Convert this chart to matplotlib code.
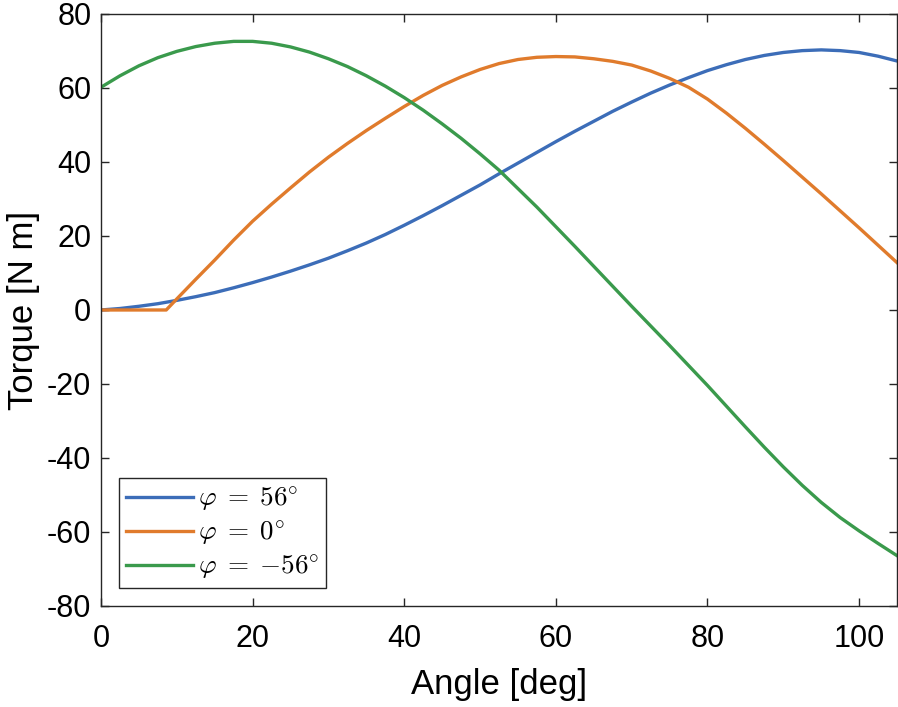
import matplotlib
matplotlib.use("Agg")
import matplotlib.pyplot as plt

angle = [0, 2.5, 5, 7.5, 10, 12.5, 15, 17.5, 20, 22.5, 25, 27.5, 30, 32.5, 35, 37.5, 40, 42.5,
         45, 47.5, 50, 52.5, 55, 57.5, 60, 62.5, 65, 67.5, 70, 72.5, 75, 77.5, 80, 82.5, 85,
         87.5, 90, 92.5, 95, 97.5, 100, 102.5, 105]
torque_p56 = [0, 0.4, 1.0, 1.7, 2.6, 3.6, 4.7, 6.0, 7.4, 8.9, 10.5, 12.2, 14.0, 16.0, 18.1, 20.4,
              22.9, 25.5, 28.2, 31.0, 33.8, 36.8, 39.7, 42.6, 45.5, 48.3, 51.0, 53.7, 56.2, 58.6,
              60.8, 62.8, 64.7, 66.3, 67.7, 68.8, 69.6, 70.1, 70.3, 70.1, 69.6, 68.6, 67.3]
angle_0 = [0, 8.6, 10, 12.5, 15, 17.5, 20, 22.5, 25, 27.5, 30, 32.5, 35, 37.5, 40, 42.5,
           45, 47.5, 50, 52.5, 55, 57.5, 60, 62.5, 65, 67.5, 70, 72.5, 75, 77.5, 80, 82.5, 85,
           87.5, 90, 92.5, 95, 97.5, 100, 102.5, 105]
torque_0 = [0, 0, 3.0, 8.3, 13.5, 18.9, 24.0, 28.6, 33.0, 37.3, 41.3, 45.0, 48.5, 51.8, 55.0,
            58.0, 60.7, 63.0, 65.0, 66.6, 67.7, 68.3, 68.5, 68.4, 67.9, 67.2, 66.2, 64.6, 62.6,
            60.2, 57.0, 53.2, 49.1, 44.8, 40.4, 35.9, 31.4, 26.8, 22.2, 17.5, 12.8]
torque_m56 = [60.2, 63.3, 66.0, 68.2, 69.9, 71.2, 72.1, 72.6, 72.6, 72.1, 71.1, 69.7, 67.9, 65.8,
              63.3, 60.5, 57.4, 54.0, 50.3, 46.4, 42.2, 37.8, 32.8, 27.8, 22.5, 17.2, 11.8, 6.4,
              1.0, -4.3, -9.6, -15.0, -20.4, -26.0, -31.6, -37.1, -42.4, -47.4, -52.0, -56.1,
              -59.7, -63.1, -66.4]

labels = [r'$\varphi\;=\;56^{\circ}$', r'$\varphi\;=\;0^{\circ}$', r'$\varphi\;=\;{-}56^{\circ}$']
colors = ['#3C6DB8', '#E07B2C', '#3A9A4C']
xticks = [0, 20, 40, 60, 80, 100]
yticks = [-80, -60, -40, -20, 0, 20, 40, 60, 80]

plt.rcParams['font.family'] = ['Liberation Sans', 'DejaVu Sans']
plt.rcParams['mathtext.fontset'] = 'cm'

fig = plt.figure(figsize=(8.98, 7.07), dpi=100)
ax = fig.add_axes([0.1125, 0.1429, 0.8864, 0.8373])

ax.plot(angle, torque_p56, color=colors[0], lw=2.4, label=labels[0])
ax.plot(angle_0, torque_0, color=colors[1], lw=2.4, label=labels[1])
ax.plot(angle, torque_m56, color=colors[2], lw=2.4, label=labels[2])

ax.set_xlim(0, 105)
ax.set_ylim(-80, 80)
ax.set_xticks(xticks)
ax.set_yticks(yticks)
ax.set_xticklabels([str(v) for v in xticks])
ax.set_yticklabels([str(v) for v in yticks])
ax.tick_params(direction='in', length=6, width=1.0, top=True, right=True,
               labelsize=22, colors='#262626', labelcolor='black')
ax.tick_params(axis='x', pad=13)
ax.tick_params(axis='y', pad=7)
for s in ax.spines.values():
    s.set_color('#262626')
    s.set_linewidth(1.0)

ax.set_xlabel('Angle [deg]', fontsize=25, labelpad=10)
ax.set_ylabel('Torque [N m]', fontsize=25, labelpad=5)

leg = ax.legend(loc='lower left', bbox_to_anchor=(0.0226, 0.0304), fontsize=19.5,
                frameon=True, fancybox=False, edgecolor='#262626', framealpha=1,
                handlelength=2.5, handletextpad=0.15, borderpad=0.25,
                labelspacing=0.2, borderaxespad=0)
leg.get_frame().set_linewidth(1.0)

fig.savefig('out.png', dpi=100)
